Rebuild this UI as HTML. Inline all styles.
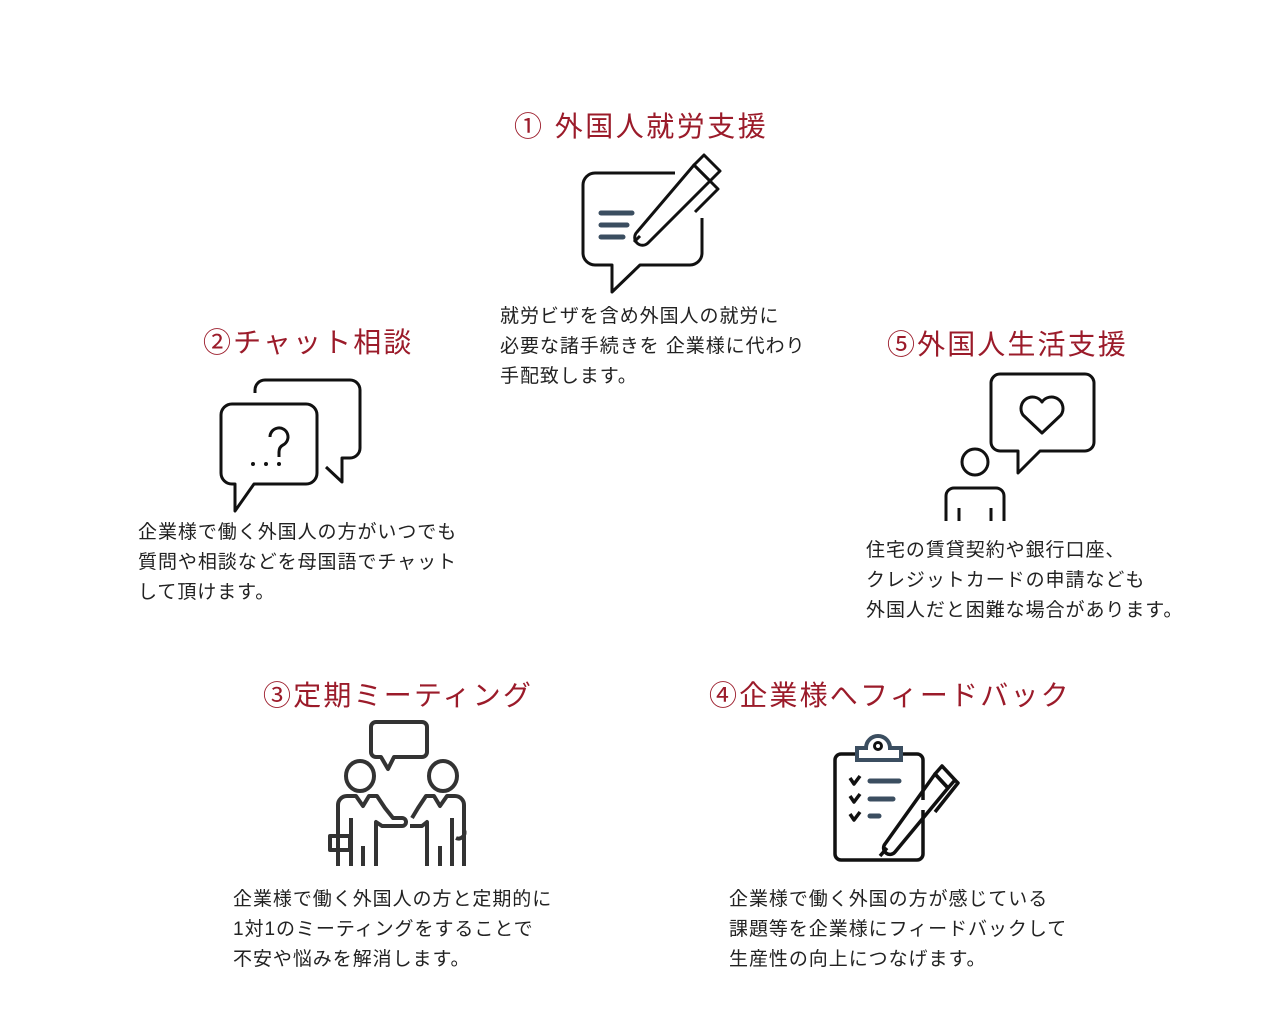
<!DOCTYPE html>
<html><head><meta charset="utf-8"><style>
body{margin:0;width:1280px;height:1024px;background:#fff;position:relative;overflow:hidden;font-family:"Liberation Sans","Noto Sans CJK JP",sans-serif}
.t{position:absolute;color:#9b1b2a;font-size:28px;line-height:34px;white-space:nowrap}
.p{position:absolute;color:#222;font-size:19px;line-height:30px;white-space:nowrap;letter-spacing:0.95px}
svg{position:absolute;overflow:visible}
</style></head><body>
<div class="t" style="left:514px;top:110px;letter-spacing:2.5px">① 外国人就労支援</div>
<div class="p" style="left:500px;top:302px;">就労ビザを含め外国人の就労に<br>必要な諸手続きを 企業様に代わり<br>手配致します。</div>

<div class="t" style="left:203px;top:326px;letter-spacing:2.1px">②チャット相談</div>
<div class="p" style="left:138px;top:518px;">企業様で働く外国人の方がいつでも<br>質問や相談などを母国語でチャット<br>して頂けます。</div>

<div class="t" style="left:887px;top:328px;letter-spacing:2.1px">⑤外国人生活支援</div>
<div class="p" style="left:866px;top:536px;">住宅の賃貸契約や銀行口座、<br>クレジットカードの申請なども<br>外国人だと困難な場合があります。</div>

<div class="t" style="left:263px;top:679px;letter-spacing:2.2px">③定期ミーティング</div>
<div class="p" style="left:233px;top:885px;">企業様で働く外国人の方と定期的に<br>1対1のミーティングをすることで<br>不安や悩みを解消します。</div>

<div class="t" style="left:709px;top:679px;letter-spacing:2.2px">④企業様へフィードバック</div>
<div class="p" style="left:729px;top:885px;">企業様で働く外国の方が感じている<br>課題等を企業様にフィードバックして<br>生産性の向上につなげます。</div>

<svg style="left:0;top:0" width="1280" height="1024">
<g fill="none" stroke="#111" stroke-width="3" stroke-linejoin="round">
<path d="M675 173 H595 a12 12 0 0 0 -12 12 V253 a12 12 0 0 0 12 12 H612 V292 L640 265 H690 a12 12 0 0 0 12 -12 V218"/>
<path d="M704 155 L720 171 L710 181 L694 165 Z"/>
<path d="M694 165 L710 181 L648 243 a7 7 0 0 1 -11 -11 Z"/>
<path d="M710 181 L718 189 L695 212"/>
<path d="M640 236 L634 242"/>
</g>
<g stroke="#3b4e60" stroke-width="5" stroke-linecap="round">
<line x1="601" y1="213" x2="632" y2="213"/><line x1="601" y1="225" x2="627" y2="225"/><line x1="601" y1="237" x2="623" y2="237"/>
</g>
<g fill="none" stroke="#111" stroke-width="3" stroke-linejoin="round">
<path d="M255 393 V390 a10 10 0 0 1 10 -10 H350 a10 10 0 0 1 10 10 V448 a10 10 0 0 1 -10 10 H342 V482 L326 467"/>
<path d="M232 404 H306 a11 11 0 0 1 11 11 V473 a11 11 0 0 1 -11 11 H254 L235 511 V484 H232 a11 11 0 0 1 -11 -11 V415 a11 11 0 0 1 11 -11 Z"/>
<path d="M270 437 a9 9 0 1 1 13 8 q-4 2 -4 7 v5"/>
</g>
<g fill="#111"><circle cx="253" cy="464" r="2"/><circle cx="266" cy="464" r="2"/><circle cx="279" cy="464" r="2"/></g>
<g fill="none" stroke="#111" stroke-width="3" stroke-linejoin="round">
<path d="M1000 374 H1085 a9 9 0 0 1 9 9 V442 a9 9 0 0 1 -9 9 H1040 L1018 473 V451 H1000 a9 9 0 0 1 -9 -9 V383 a9 9 0 0 1 9 -9 Z"/>
<path d="M1042 433 L1023 415 a11 11 0 0 1 19 -13 a11 11 0 0 1 19 13 Z"/>
<circle cx="975" cy="462" r="13"/>
<path d="M946 521 V496 a8 8 0 0 1 8 -8 H996 a8 8 0 0 1 8 8 V521"/>
<path d="M959 508 V521 M991 508 V521"/>
</g>
<g fill="none" stroke="#333" stroke-width="4" stroke-linejoin="round">
<path d="M376 722 H422 a5 5 0 0 1 5 5 V752 a5 5 0 0 1 -5 5 H394 L388 769 L381 757 H376 a5 5 0 0 1 -5 -5 V727 a5 5 0 0 1 5 -5 Z"/>
<ellipse cx="360" cy="776" rx="14" ry="15"/>
<ellipse cx="443" cy="776" rx="14" ry="15"/>
<path d="M338 866 V805 a9 9 0 0 1 9 -9 H356 L363 806 L369 796 H377 L385 808 L393 818 H402 a3 3 0 0 1 0 8 H382 L376 822 V866"/>
<path d="M351 818 V866 M363 846 V866"/>
<path d="M464 866 V805 a9 9 0 0 0 -9 -9 H447 L440 806 L434 796 H426 L418 808 L412 818 M410 826 H422 L427 822 V866"/>
<path d="M452 818 V866 M440 846 V866 M464 830 a6 6 0 0 1 -8 8"/>
<rect x="330" y="836" width="20" height="14"/>
</g>
<g fill="none" stroke="#111" stroke-width="3.5" stroke-linejoin="round">
<path d="M855 754 H841 a6 6 0 0 0 -6 6 V854 a6 6 0 0 0 6 6 H917 a6 6 0 0 0 6 -6 V810 M923 800 V760 a6 6 0 0 0 -6 -6 H903"/>
<path d="M942 766 L955 780 L948 788 L935 774 Z"/>
<path d="M935 774 L948 788 L895 852 a6 6 0 0 1 -10 -8 Z"/>
<path d="M955 780 L958 783 L935 812"/>
<path d="M887 848 L880 856"/>
<path d="M850 778 L854 784 L860 776 M850 796 L854 802 L860 794 M850 814 L854 820 L860 812"/>
</g>
<g fill="none" stroke="#3b4e60" stroke-width="4">
<path d="M857 760 V748 H866 a12 12 0 0 1 24 0 H901 V760 Z"/>
<circle cx="878" cy="746" r="3.5" stroke="#111" stroke-width="3"/>
</g>
<g stroke="#3b4e60" stroke-width="5" stroke-linecap="round">
<line x1="870" y1="781" x2="899" y2="781"/><line x1="870" y1="799" x2="893" y2="799"/><line x1="870" y1="816" x2="879" y2="816"/>
</g>
</svg>
</body></html>
